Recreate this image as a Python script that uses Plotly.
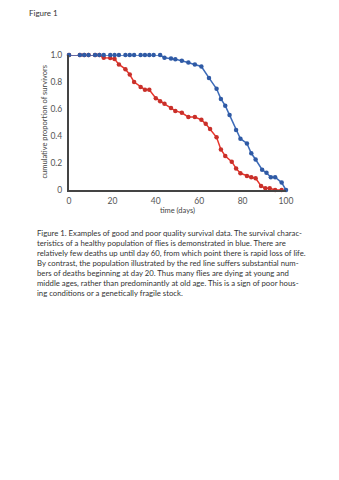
import plotly.graph_objects as go

blue_days = [0, 5, 7, 9, 12, 14, 16, 19, 21, 23, 26, 28, 30, 33, 35, 37, 39, 42,
             44, 47, 49, 52, 55, 58, 61, 64.5, 68, 70, 72, 74, 77, 79, 82, 84, 86,
             89, 91, 93, 95, 98, 100]
blue_surv = [1, 1, 1, 1, 1, 1, 1, 1, 1, 1, 1, 1, 1, 1, 1, 1, 1, 1,
             0.98, 0.975, 0.968, 0.958, 0.945, 0.93, 0.915, 0.83, 0.75, 0.675, 0.625,
             0.555, 0.445, 0.38, 0.345, 0.272, 0.226, 0.15, 0.128, 0.095, 0.095, 0.055, 0]

red_days = [0, 5, 7, 9, 12, 14, 16, 19, 21, 23, 26, 28, 30, 33, 35, 37, 40, 42, 44,
            47, 49, 52, 55, 58, 61, 63, 65, 68, 70, 72, 75, 77, 79, 82, 84, 86,
            88.5, 90.5, 92.5, 95, 98]
red_surv = [1, 1, 1, 1, 1, 1, 0.98, 0.978, 0.97, 0.93, 0.895, 0.855, 0.8, 0.763,
            0.743, 0.742, 0.68, 0.658, 0.638, 0.607, 0.586, 0.572, 0.54, 0.54, 0.52,
            0.49, 0.452, 0.39, 0.3, 0.252, 0.21, 0.16, 0.124, 0.104, 0.094, 0.087,
            0.03, 0.013, 0.013, 0, 0]

x_ticks = [0, 20, 40, 60, 80, 100]
x_tick_labels = ["0", "20", "40", "60", "80", "100"]
y_ticks = [0, 0.2, 0.4, 0.6, 0.8, 1.0]
y_tick_labels = ["0", "0.2", "0.4", "0.6", "0.8", "1.0"]

caption = [
    "Figure 1. Examples of good and poor quality survival data. The survival charac-",
    "teristics of a healthy population of flies is demonstrated in blue. There are",
    "relatively few deaths up until day 60, from which point there is rapid loss of life.",
    "By contrast, the population illustrated by the red line suffers substantial num-",
    "bers of deaths beginning at day 20. Thus many flies are dying at young and",
    "middle ages, rather than predominantly at old age. This is a sign of poor hous-",
    "ing conditions or a genetically fragile stock.",
]

W, H = 339, 480
L, R, T, B = 69, 53, 55, 290
plot_w = W - L - R
plot_h = H - T - B

fig = go.Figure()
fig.add_trace(go.Scatter(
    x=red_days, y=red_surv, mode="lines+markers",
    line=dict(color="#e8362c", width=1.5),
    marker=dict(color="#c9302a", size=4.5),
    cliponaxis=False, showlegend=False))
fig.add_trace(go.Scatter(
    x=blue_days, y=blue_surv, mode="lines+markers",
    line=dict(color="#3d6bb8", width=1.5),
    marker=dict(color="#2f5aa5", size=4.5),
    cliponaxis=False, showlegend=False))

font_family = "Lato, 'Open Sans', sans-serif"


def px_x(p):
    return (p - L) / plot_w


def px_y(p):
    return (H - B - p) / plot_h


annotations = [dict(
    text="Figure 1", x=px_x(27), y=px_y(13), xref="paper", yref="paper",
    showarrow=False, xanchor="left", yanchor="middle",
    font=dict(size=8, color="#333", family=font_family))]
for i, line in enumerate(caption):
    annotations.append(dict(
        text=line, x=px_x(35), y=px_y(232.7 + i * 10.0),
        xref="paper", yref="paper", showarrow=False,
        xanchor="left", yanchor="middle",
        font=dict(size=7.75, color="#333", family=font_family)))
annotations.append(dict(
    text="cumulative proportion of survivors", x=px_x(44), y=0.5,
    xref="paper", yref="paper", showarrow=False, textangle=-90,
    xanchor="center", yanchor="middle",
    font=dict(size=7.5, color="#444", family=font_family)))

fig.update_layout(
    width=W, height=H,
    margin=dict(l=L, r=R, t=T, b=B),
    paper_bgcolor="white", plot_bgcolor="white",
    font=dict(family=font_family, color="#555"),
    xaxis=dict(range=[0, 100], tickvals=x_ticks, ticktext=x_tick_labels,
               showgrid=False, zeroline=False, showline=True,
               linecolor="#444", linewidth=2, ticks="", ticklabelstandoff=2,
               tickfont=dict(size=8.5, color="#555"),
               title=dict(text="time (days)", font=dict(size=7.5, color="#444"),
                          standoff=2)),
    yaxis=dict(range=[0, 1.0], tickvals=y_ticks, ticktext=y_tick_labels,
               showgrid=False, zeroline=False, showline=True,
               linecolor="#444", linewidth=2, ticks="", ticklabelstandoff=3,
               tickfont=dict(size=8.5, color="#555")),
    annotations=annotations,
)

fig.write_html("out.html")
